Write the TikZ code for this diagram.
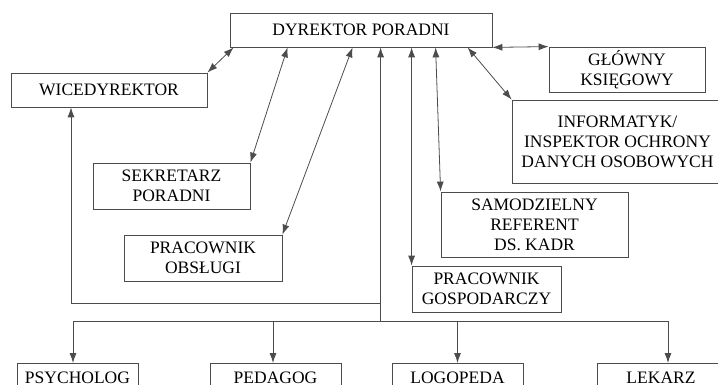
\documentclass[tikz,border=0pt]{standalone}
\usepackage{fontspec}
\setmainfont{Liberation Serif}
\usepackage{tikz}
\usetikzlibrary{arrows.meta, calc}

\begin{document}
\begin{tikzpicture}[x=1pt, y=-1pt,
  box/.style={draw=black!70, line width=0.8pt, inner sep=0pt, align=center,
    font=\fontsize{17.5}{20}\selectfont},
  link/.style={draw=black!70, line width=0.8pt, >={Latex[length=10pt,width=7pt]}}]
% Page frame
\clip (0,0) rectangle (718,385);

% Boxes (centres in pixels, y downwards)
\node[box, minimum width=262pt, minimum height=34pt] (dyr)  at (361,30)    {DYREKTOR PORADNI};
\node[box, minimum width=196pt, minimum height=34pt] (wice) at (109,90)    {WICEDYREKTOR};
\node[box, minimum width=156pt, minimum height=45pt] (glow) at (627,69.5)  {GŁÓWNY\\KSIĘGOWY};
\node[box, minimum width=211pt, minimum height=83pt] (inf)  at (617.5,141.5) {INFORMATYK/\\INSPEKTOR OCHRONY\\DANYCH OSOBOWYCH};
\node[box, minimum width=157pt, minimum height=46pt] (sek)  at (171.5,186) {SEKRETARZ\\PORADNI};
\node[box, minimum width=158pt, minimum height=46pt] (obs)  at (203,258)   {PRACOWNIK\\OBSŁUGI};
\node[box, minimum width=187pt, minimum height=65pt] (sam)  at (534.5,224.5) {SAMODZIELNY\\REFERENT\\DS. KADR};
\node[box, minimum width=149pt, minimum height=46pt] (gosp) at (486.5,289) {PRACOWNIK\\GOSPODARCZY};
% Bottom row (cut by the page edge)
\node[box, minimum width=121pt, minimum height=28pt, anchor=north] (psy) at (77.5,363)  {PSYCHOLOG};
\node[box, minimum width=131pt, minimum height=28pt, anchor=north] (ped) at (275.5,363) {PEDAGOG};
\node[box, minimum width=131pt, minimum height=28pt, anchor=north] (log) at (457.5,363) {LOGOPEDA};
\node[box, minimum width=128pt, minimum height=28pt, anchor=north] (lek) at (661,363)   {LEKARZ};

% Points on the director's box
\coordinate (dSek)  at ([xshift=58pt]dyr.south west);
\coordinate (dObs)  at ([xshift=123pt]dyr.south west);
\coordinate (dMain) at ([xshift=151pt]dyr.south west);
\coordinate (dSam)  at ([xshift=206pt]dyr.south west);
\coordinate (dInf)  at ([xshift=238pt]dyr.south west);
\coordinate (bus)   at ($(dMain)+(0,274)$);
\coordinate (wTurn) at ($(dMain)+(0,256)$);

% Two-way links to the director
\draw[link, <->] (wice.north east) -- ([xshift=4pt]dyr.south west);
\draw[link, <->] (sek.north east) -- (dSek);
\draw[link, <->] (obs.north east) -- (dObs);
\draw[link, <->] (gosp.north west) -- (gosp.north west |- dyr.south);
\draw[link, <->] (sam.north west) -- (dSam);
\draw[link, <->] (inf.north west) -- (dInf);
\draw[link, <->] (dyr.south east) -- (glow.north west);

% Main trunk
\draw[link, ->] (bus) -- (dMain);
\draw[link, ->] (wTurn) -| ([xshift=-38pt]wice.south);

% Specialists
\draw[link] (bus -| psy.north) ++(-4.5,0) -- ([xshift=7pt]bus -| lek.north);
\draw[link, ->] ([xshift=-4.5pt]bus -| psy.north) -- ([xshift=-4.5pt]psy.north);
\draw[link, ->] ([xshift=-2.5pt]bus -| ped.north) -- ([xshift=-2.5pt]ped.north);
\draw[link, ->] (bus -| log.north) -- (log.north);
\draw[link, ->] ([xshift=7pt]bus -| lek.north) -- ([xshift=7pt]lek.north);
\end{tikzpicture}
\end{document}
